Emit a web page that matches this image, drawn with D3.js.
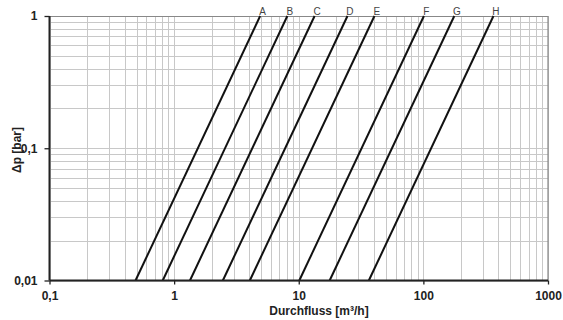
<!DOCTYPE html>
<meta charset="utf-8">
<style>
    body { margin: 0; background: #fff; }
    svg { font-family: Arial, "Liberation Sans", sans-serif; }
    .grid line { stroke: #c8c8c8; stroke-width: 1; }
    .curve { fill: none; stroke: #111; stroke-width: 2; }
    .tick-label { font-size: 12px; font-weight: bold; fill: #222; }
    .title { font-size: 12px; font-weight: bold; fill: #222; }
    .curve-label { font-size: 10px; fill: #444; }
</style>

<svg width="563" height="320"></svg>

<script src="https://d3js.org/d3.v7.min.js"></script>

<script>
// valve curves: flow at 0.01 bar and at 1 bar
var curveNames = ["A", "B", "C", "D", "E", "F", "G", "H"];
var flowAtLow  = [0.49, 0.81, 1.34, 2.46, 4.05, 10.1, 17.7, 36.5];
var flowAtHigh = [4.9, 8.1, 13.4, 24.6, 40.5, 101, 177, 365];
var dpRange = [0.01, 1];

var xTicks = [0.1, 1, 10, 100, 1000];
var xTickLabels = ["0,1", "1", "10", "100", "1000"];
var yTicks = [0.01, 0.1, 1];
var yTickLabels = ["0,01", "0,1", "1"];

var margin = { left: 49.5, right: 15, top: 16, bottom: 39.5 };
var width = 563, height = 320;

var svg = d3.select("svg");

var x = d3.scaleLog()
    .domain([0.1, 1000])
    .range([margin.left, width - margin.right]);

var y = d3.scaleLog()
    .domain([0.01, 1])
    .range([height - margin.bottom, margin.top]);

// minor + major grid
var xGrid = [], yGrid = [];
[0.1, 1, 10, 100].forEach(function(d) {
    for (var k = 1; k <= 10; k++) xGrid.push(d * k);
});
[0.01, 0.1].forEach(function(d) {
    for (var k = 1; k <= 10; k++) yGrid.push(d * k);
});

var grid = svg.append("g").attr("class", "grid");
grid.selectAll(".vx")
    .data(xGrid)
    .enter()
    .append("line")
    .attr("x1", function(d) { return Math.round(x(d)) + 0.5; })
    .attr("x2", function(d) { return Math.round(x(d)) + 0.5; })
    .attr("y1", y(1))
    .attr("y2", y(0.01));
grid.selectAll(".hy")
    .data(yGrid)
    .enter()
    .append("line")
    .attr("y1", function(d) { return Math.round(y(d)) + 0.5; })
    .attr("y2", function(d) { return Math.round(y(d)) + 0.5; })
    .attr("x1", x(0.1))
    .attr("x2", x(1000));

// frame top/right in darker gray
svg.append("path")
    .attr("d", "M" + x(0.1) + "," + (y(1) + 0.5) + "H" + (x(1000)) + "V" + y(0.01))
    .attr("fill", "none")
    .attr("stroke", "#888")
    .attr("stroke-width", 1.2);

// curves
var curves = curveNames.map(function(name, i) {
    return { name: name, pts: [[flowAtLow[i], dpRange[0]], [flowAtHigh[i], dpRange[1]]] };
});

var line = d3.line()
    .x(function(d) { return x(d[0]); })
    .y(function(d) { return y(d[1]); });

svg.append("g")
    .selectAll("path")
    .data(curves)
    .enter()
    .append("path")
    .attr("class", "curve")
    .attr("d", function(d) { return line(d.pts); });

svg.append("g")
    .selectAll("text")
    .data(curves)
    .enter()
    .append("text")
    .attr("class", "curve-label")
    .attr("x", function(d) { return x(d.pts[1][0]) + 2.5; })
    .attr("y", y(1) - 1.5)
    .attr("text-anchor", "middle")
    .text(function(d) { return d.name; });

// axes (black, left + bottom)
var xAxis = d3.axisBottom(x)
    .tickValues(xTicks)
    .tickSize(4)
    .tickFormat(function(d, i) { return xTickLabels[i]; });
var gx = svg.append("g")
    .attr("transform", "translate(0," + y(0.01) + ")")
    .call(xAxis);

var yAxis = d3.axisLeft(y)
    .tickValues(yTicks)
    .tickSize(5)
    .tickFormat(function(d, i) { return yTickLabels[i]; });
var gy = svg.append("g")
    .attr("transform", "translate(" + x(0.1) + ",0)")
    .call(yAxis);

[gx, gy].forEach(function(g) {
    g.select(".domain").attr("stroke", "#222").attr("stroke-width", 2);
    g.selectAll(".tick line").attr("stroke", "#222").attr("stroke-width", 1.3);
    g.selectAll(".tick text")
        .attr("class", "tick-label")
        .attr("font-family", null)
        .attr("font-size", null);
});
gx.selectAll(".tick text").attr("dy", "0.71em").attr("y", 10.5);
gy.selectAll(".tick text").attr("x", -12);
gx.select(".domain").attr("d", "M" + x(0.1) + ",0H" + x(1000));
gy.select(".domain").attr("d", "M0," + y(0.01) + "V" + y(1));

svg.append("text")
    .attr("class", "title")
    .attr("x", 319)
    .attr("y", 315)
    .attr("text-anchor", "middle")
    .text("Durchfluss [m³/h]");

svg.append("text")
    .attr("class", "title")
    .attr("transform", "translate(21,150) rotate(-90)")
    .attr("text-anchor", "middle")
    .text("Δp [bar]");
</script>
